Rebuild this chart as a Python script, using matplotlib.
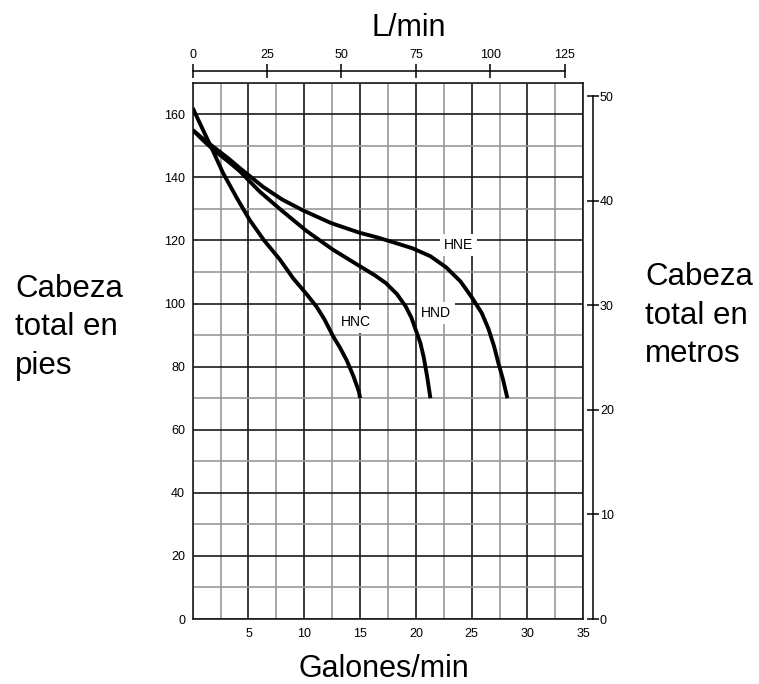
import matplotlib

matplotlib.use("Agg")

import matplotlib.pyplot as plt
import numpy as np
from matplotlib.ticker import MultipleLocator

plt.rcParams["font.family"] = ["Liberation Sans", "DejaVu Sans"]

# curve points: (galones/min, pies)
hnc_x = [0.0, 0.9, 1.8, 2.7, 3.9, 5.1, 6.4, 7.8, 9.0, 10.2, 11.1, 11.8, 12.6, 13.2, 13.8, 14.4, 14.9, 15.0]
hnc_y = [162, 155.2, 148.5, 141.5, 133.8, 126.5, 120, 114, 108, 103, 99, 95, 89.5, 86, 82, 77, 72, 70]

hnd_x = [0.0, 1.0, 2.1, 3.2, 4.2, 6.0, 7.8, 10.2, 12.6, 14.9, 16.3, 17.3, 18.3, 19.1, 19.6, 20.0, 20.4, 20.7, 21.0, 21.3]
hnd_y = [155, 151.5, 148, 145, 142, 135.5, 130, 123, 117, 112, 109, 106.5, 103, 99, 95.5, 91.5, 87.5, 83, 77, 70]

hne_x = [0.0, 1.0, 2.1, 3.2, 4.2, 6.3, 8.0, 9.9, 12.4, 14.9, 16.5, 17.9, 19.7, 21.3, 22.7, 24.0, 25.0, 25.9, 26.5, 27.0, 27.4, 27.8, 28.2]
hne_y = [155, 152, 149, 146, 143, 137, 133, 129.5, 125.5, 122.5, 121, 119.5, 117.5, 115, 111.5, 107, 102, 97, 92, 86.5, 81, 76, 70]

curve_labels = ["HNC", "HND", "HNE"]
label_pos = [(14.6, 94.3), (21.8, 96.9), (23.8, 118.6)]

gpm_ticks = [5, 10, 15, 20, 25, 30, 35]
ft_ticks = [0, 20, 40, 60, 80, 100, 120, 140, 160]
lpm_ticks = [0, 25, 50, 75, 100, 125]
m_ticks = [0, 10, 20, 30, 40, 50]

fig = plt.figure(figsize=(7.59, 6.84), dpi=100)
ax = fig.add_axes([192.7 / 759, 1 - 619 / 684, (583.3 - 192.7) / 759, (619 - 82.7) / 684])

ax.set_xlim(0, 35)
ax.set_ylim(0, 170)
ax.xaxis.set_major_locator(MultipleLocator(5))
ax.xaxis.set_minor_locator(MultipleLocator(2.5))
ax.yaxis.set_major_locator(MultipleLocator(20))
ax.yaxis.set_minor_locator(MultipleLocator(10))
ax.grid(True, which="major", color="#1a1a1a", linewidth=1.2)
ax.grid(True, which="minor", color="#9a9a9a", linewidth=1.2)
ax.set_axisbelow(True)
ax.set_xticks(gpm_ticks)
ax.set_yticks(ft_ticks)
ax.tick_params(which="both", length=0, labelsize=9)
ax.tick_params(axis="x", pad=6.5)
ax.tick_params(axis="y", pad=5.5)
for s in ax.spines.values():
    s.set_linewidth(1.2)
    s.set_color("#1a1a1a")

for xs, ys in [(hnc_x, hnc_y), (hnd_x, hnd_y), (hne_x, hne_y)]:
    ax.plot(xs, ys, color="black", linewidth=2.8, solid_capstyle="butt", solid_joinstyle="round", zorder=3)

for name, (lx, ly) in zip(curve_labels, label_pos):
    ax.text(lx, ly, name, fontsize=10, ha="center", va="center", zorder=4,
            bbox=dict(facecolor="white", edgecolor="none", pad=3))

# top axis in L/min
top = ax.twiny()
top.set_xlim(0, (583.3 - 192.7) / 2.976)
for k, s in top.spines.items():
    s.set_visible(k == "top")
top.spines["top"].set_position(("outward", 8.6))
top.spines["top"].set_bounds(0, 125)
top.spines["top"].set_linewidth(1.1)
top.set_xticks(lpm_ticks)
top.tick_params(axis="x", direction="inout", length=9.4, width=1.1, pad=2.5, labelsize=9)

# right axis in metres
right = ax.twinx()
right.set_ylim(0, 170 / 3.315)
for k, s in right.spines.items():
    s.set_visible(k == "right")
right.spines["right"].set_position(("outward", 7.2))
right.spines["right"].set_bounds(0, 50)
right.spines["right"].set_linewidth(1.1)
right.set_yticks(m_ticks)
right.tick_params(axis="y", direction="inout", length=8, width=1.1, pad=0.8, labelsize=9)

fig.text(409 / 759, 1 - 36 / 684, "L/min", fontsize=22, ha="center", va="baseline")
fig.text(384 / 759, 1 - 677 / 684, "Galones/min", fontsize=22, ha="center", va="baseline")

for line, base in zip(["Cabeza", "total en", "pies"], [297, 335.5, 374]):
    fig.text(15 / 759, 1 - base / 684, line, fontsize=22.5, ha="left", va="baseline")
for line, base in zip(["Cabeza", "total en", "metros"], [285, 323.5, 362]):
    fig.text(645 / 759, 1 - base / 684, line, fontsize=22.5, ha="left", va="baseline")

fig.savefig("out.png", dpi=100)
